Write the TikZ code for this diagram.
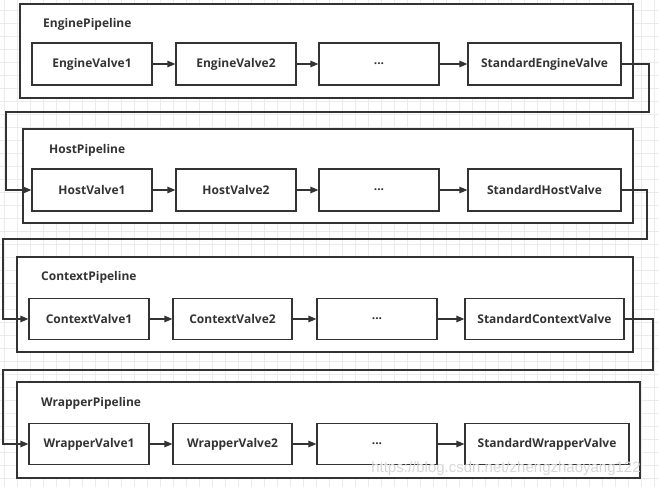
\documentclass[tikz,border=0pt]{standalone}
\usepackage{fontspec}
\setmainfont{Open Sans}
\newfontfamily\wmfont{Liberation Sans}
\usetikzlibrary{arrows.meta,calc}
\definecolor{ink}{HTML}{333333}
\definecolor{gridc}{HTML}{EBEBEB}
\definecolor{wmc}{HTML}{D8D8D8}
\tikzset{
  valve/.style={draw=ink, line width=1.2pt, fill=white, inner sep=0pt, minimum height=42pt,
    font=\fontsize{12}{14}\selectfont\bfseries, text=ink},
  pipe/.style={draw=ink, line width=1.2pt, fill=white, inner sep=0pt},
  plabel/.style={anchor=west, inner sep=0pt, font=\fontsize{12}{14}\selectfont\bfseries, text=ink},
  arr/.style={draw=ink, line width=1.2pt, -{Triangle[length=8pt,width=6.5pt]}},
  link/.style={draw=ink, line width=1.2pt, -{Triangle[length=8pt,width=6.5pt]}},
}
\begin{document}
\begin{tikzpicture}[x=1pt,y=-1pt]
\useasboundingbox (0,0) rectangle (659,487);
\fill[white] (0,0) rectangle (659,487);
% grid
\foreach \gx in {4,17,...,659} \draw[gridc, line width=0.6pt] (\gx,0) -- (\gx,487);
\foreach \gy in {10,23,...,487} \draw[gridc, line width=0.6pt] (0,\gy) -- (659,\gy);

% pipelines
\node[pipe, minimum width=613pt, minimum height=94pt] (ep) at (326.5,51) {};
\node[pipe, minimum width=610pt, minimum height=94pt] (hp) at (328,176) {};
\node[pipe, minimum width=616pt, minimum height=95pt] (cp) at (325,304.5) {};
\node[pipe, minimum width=623pt, minimum height=96pt] (wp) at (328.5,430) {};

\node[plabel] (epl) at (43,24) {EnginePipeline};
\node[plabel] (hpl) at (49,150) {HostPipeline};
\node[plabel] (cpl) at (41,277) {ContextPipeline};
\node[plabel] (wpl) at (41,403) {WrapperPipeline};

% row 1
\node[valve, minimum width=120pt] (ev1) at (92,64) {EngineValve1};
\node[valve, minimum width=120pt] (ev2) at (236,64) {EngineValve2};
\node[valve, minimum width=120pt] (evd) at (379,64) {...};
\node[valve, minimum width=153pt] (sev) at (544.5,64) {StandardEngineValve};
% row 2
\node[valve, minimum width=120pt] (hv1) at (92,190) {HostValve1};
\node[valve, minimum width=120pt] (hv2) at (236,190) {HostValve2};
\node[valve, minimum width=120pt] (hvd) at (379,190) {...};
\node[valve, minimum width=153pt] (shv) at (544.5,190) {StandardHostValve};
% row 3
\node[valve, minimum width=120pt, minimum height=41pt] (cv1) at (89,319) {ContextValve1};
\node[valve, minimum width=119pt, minimum height=41pt] (cv2) at (232.5,319) {ContextValve2};
\node[valve, minimum width=120pt, minimum height=41pt] (cvd) at (377,319) {...};
\node[valve, minimum width=159pt, minimum height=41pt] (scv) at (544.5,319) {StandardContextValve};
% row 4
\node[valve, minimum width=120pt, minimum height=41pt] (wv1) at (89,444) {WrapperValve1};
\node[valve, minimum width=119pt, minimum height=41pt] (wv2) at (232.5,444) {WrapperValve2};
\node[valve, minimum width=120pt, minimum height=41pt] (wvd) at (377,444) {...};
\node[valve, minimum width=164pt, minimum height=41pt] (swv) at (547,444) {StandardWrapperValve};

% arrows within rows
\draw[arr] (ev1) -- (ev2);
\draw[arr] (ev2) -- (evd);
\draw[arr] (evd) -- (sev);
\draw[arr] (hv1) -- (hv2);
\draw[arr] (hv2) -- (hvd);
\draw[arr] (hvd) -- (shv);
\draw[arr] (cv1) -- (cv2);
\draw[arr] (cv2) -- (cvd);
\draw[arr] (cvd) -- (scv);
\draw[arr] (wv1) -- (wv2);
\draw[arr] (wv2) -- (wvd);
\draw[arr] (wvd) -- (swv);

% links between pipelines
\coordinate (k1a) at (649,112);
\coordinate (k1b) at (6,112);
\coordinate (k2a) at (647,239);
\coordinate (k2b) at (3,239);
\coordinate (k3a) at (653,370);
\coordinate (k3b) at (3,370);
\draw[link] (sev.east) -| (k1a) -- (k1b) |- (hv1.west);
\draw[link] (shv.east) -| (k2a) -- (k2b) |- (cv1.west);
\draw[link] (scv.east) -| (k3a) -- (k3b) |- (wv1.west);

% watermark
\node[anchor=center, inner sep=0pt, text=wmc, font=\wmfont\fontsize{15}{17}\selectfont] (wm) at (506,469) {https://blog.csdn.net/zhengzhaoyang122};
\end{tikzpicture}
\end{document}
